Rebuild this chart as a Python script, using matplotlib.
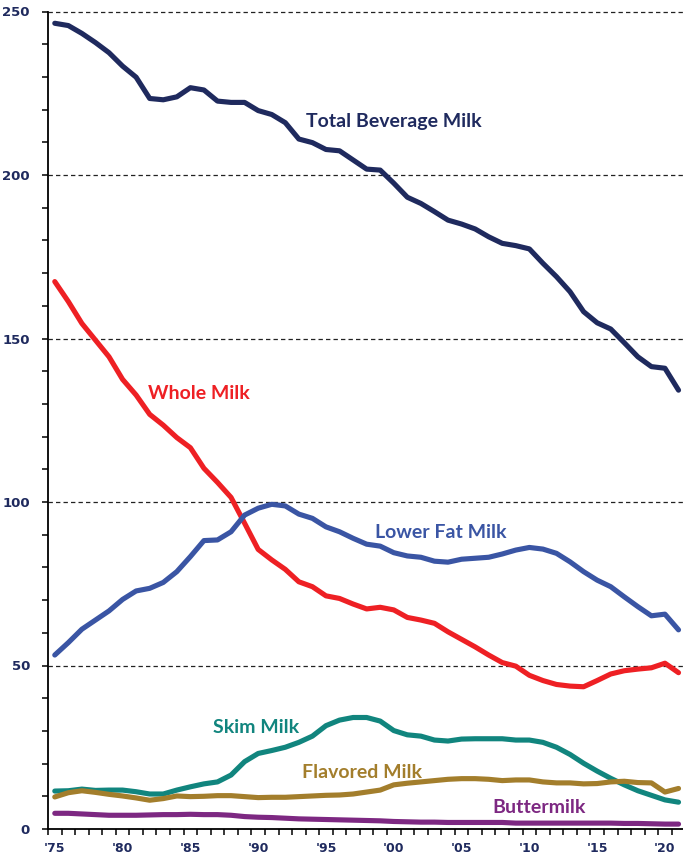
import numpy as np
import matplotlib
matplotlib.use('Agg')
import matplotlib.pyplot as plt
from matplotlib.ticker import MultipleLocator


years = list(range(1975, 2022))

total_beverage = [246.4, 245.7, 243.3, 240.5, 237.4, 233.3, 229.9, 223.4, 223.0, 223.9,
                  226.7, 226.0, 222.6, 222.2, 222.2, 219.7, 218.5, 216.0, 211.0, 209.9,
                  207.8, 207.4, 204.6, 201.8, 201.5, 197.5, 193.2, 191.3, 188.8, 186.2,
                  185.0, 183.5, 181.1, 179.1, 178.4, 177.4, 173.0, 168.9, 164.3, 158.2,
                  154.8, 152.9, 148.7, 144.4, 141.4, 140.9, 134.2]

whole = [167.4, 161.3, 154.6, 149.5, 144.4, 137.5, 132.7, 126.8, 123.5, 119.7,
         116.6, 110.3, 106.0, 101.4, 93.5, 85.5, 82.3, 79.4, 75.6, 74.1,
         71.3, 70.5, 68.8, 67.3, 67.8, 67.0, 64.7, 63.9, 62.9, 60.3,
         58.0, 55.7, 53.2, 50.9, 49.8, 47.0, 45.4, 44.2, 43.7, 43.5,
         45.4, 47.4, 48.4, 48.9, 49.3, 50.7, 47.8]

lower_fat = [53.2, 57.0, 61.1, 63.9, 66.7, 70.2, 72.8, 73.6, 75.4, 78.7,
             83.3, 88.2, 88.4, 90.9, 96.0, 98.1, 99.3, 98.8, 96.3, 95.0,
             92.4, 90.9, 88.9, 87.1, 86.5, 84.5, 83.5, 83.1, 81.9, 81.6,
             82.5, 82.8, 83.1, 84.1, 85.3, 86.1, 85.6, 84.3, 81.7, 78.7,
             76.1, 74.1, 71.0, 68.0, 65.2, 65.7, 60.9]

skim = [11.6, 11.7, 12.2, 11.8, 11.9, 11.9, 11.4, 10.7, 10.7, 11.9,
        12.9, 13.8, 14.4, 16.5, 20.6, 23.1, 24.0, 25.0, 26.5, 28.4,
        31.6, 33.3, 34.1, 34.1, 33.0, 30.1, 28.8, 28.4, 27.2, 26.9,
        27.5, 27.6, 27.6, 27.6, 27.2, 27.2, 26.5, 25.0, 22.8, 20.1,
        17.7, 15.5, 13.5, 11.7, 10.3, 8.9, 8.2]

flavored = [9.8, 11.1, 11.7, 11.2, 10.6, 10.1, 9.5, 8.8, 9.3, 10.1,
            9.9, 10.0, 10.2, 10.2, 9.9, 9.6, 9.7, 9.7, 9.9, 10.1,
            10.3, 10.4, 10.7, 11.3, 11.9, 13.5, 14.0, 14.4, 14.8, 15.2,
            15.4, 15.4, 15.2, 14.8, 15.0, 15.0, 14.4, 14.1, 14.1, 13.8,
            13.9, 14.4, 14.6, 14.2, 14.1, 11.3, 12.4]

buttermilk = [4.8, 4.8, 4.6, 4.4, 4.2, 4.2, 4.2, 4.3, 4.4, 4.4,
              4.5, 4.4, 4.4, 4.2, 3.8, 3.6, 3.5, 3.3, 3.1, 3.0,
              2.9, 2.8, 2.7, 2.6, 2.5, 2.3, 2.2, 2.1, 2.1, 2.0,
              2.0, 2.0, 2.0, 2.0, 1.8, 1.8, 1.8, 1.8, 1.8, 1.8,
              1.8, 1.8, 1.7, 1.7, 1.6, 1.5, 1.5]

tick_years = [1975, 1980, 1985, 1990, 1995, 2000, 2005, 2010, 2015, 2020]
tick_labels = ["'75", "'80", "'85", "'90", "'95", "'00", "'05", "'10", "'15", "'20"]


navy = '#1F2A5E'
series = [
    (total_beverage, '#1F2A5E', 'Total Beverage Milk', 1993.5, 216.3),
    (whole, '#EE2024', 'Whole Milk', 1981.9, 133.3),
    (lower_fat, '#3A55A4', 'Lower Fat Milk', 1998.6, 90.6),
    (skim, '#11857E', 'Skim Milk', 1986.65, 31.0),
    (flavored, '#A37E2C', 'Flavored Milk', 1993.2, 17.3),
    (buttermilk, '#7D2882', 'Buttermilk', 2007.3, 6.6),
]


fig = plt.figure(figsize=(6.83, 8.6), dpi=100)
ax = fig.add_axes([48 / 683, 31 / 860, 637.3 / 683, 817.5 / 860])

# dashed reference lines at the major y ticks
for v in [50, 100, 150, 200, 250]:
    ax.axhline(v, color='#222222', lw=0.9, linestyle=(0, (3.5, 2.5)), zorder=1, clip_on=False)

# one line plus its name for each series
for vals, col, name, tx, ty in series:
    ax.plot(years, vals, color=col, lw=3.7, solid_capstyle='round', solid_joinstyle='round', zorder=3)
    ax.text(tx, ty, name, color=col, fontsize=14, fontweight='bold', family='Lato',
            ha='left', va='center', zorder=4)


ax.set_xlim(1974.5, 2021.5)
ax.set_ylim(0, 250)

ax.spines['top'].set_visible(False)
ax.spines['right'].set_visible(False)
ax.spines['left'].set_linewidth(1.3)
ax.spines['bottom'].set_linewidth(1.3)

ax.set_yticks([0, 50, 100, 150, 200, 250])
ax.yaxis.set_minor_locator(MultipleLocator(10))
ax.tick_params(axis='y', which='both', direction='out', length=4, width=1.1, color='black',
               labelsize=9.5, labelcolor=navy, pad=9)
for lab in ax.get_yticklabels():
    lab.set_fontweight('bold')

ax.set_xticks(tick_years)
ax.set_xticklabels(tick_labels, fontsize=9, fontweight='bold', color=navy)
ax.set_xticks(np.arange(1974.5, 2022, 1), minor=True)
ax.tick_params(axis='x', which='major', length=0, pad=9)
ax.tick_params(axis='x', which='minor', direction='out', length=4, width=1.1, color='black')

plt.savefig('out.png', dpi=100)
